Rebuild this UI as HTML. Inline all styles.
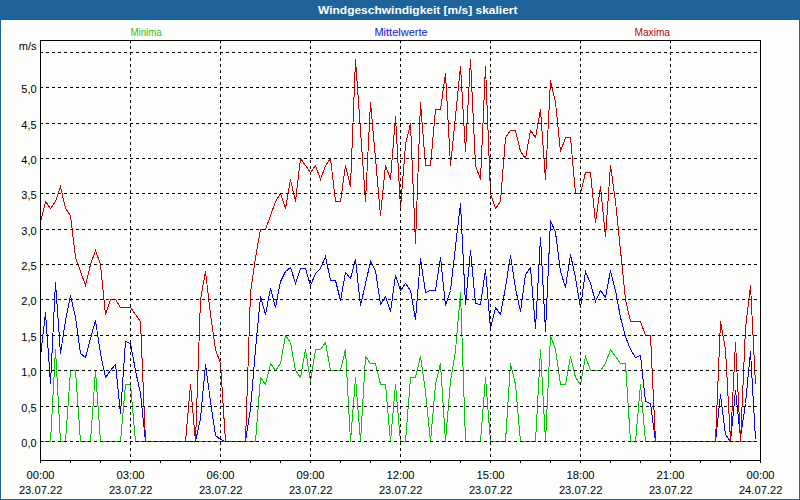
<!DOCTYPE html>
<html lang="de"><head><meta charset="utf-8"><title>Windgeschwindigkeit [m/s] skaliert</title>
<style>
html,body{margin:0;padding:0;background:#fdfefc;}
body{width:800px;height:500px;overflow:hidden;position:relative;font-family:"Liberation Sans",sans-serif;}
#win{position:absolute;left:0;top:0;width:798px;height:479px;border:1px solid #1e649a;border-top:20px solid #1e649a;background:#fdfefc;}
</style></head><body>
<div id="win"></div>
<svg width="800" height="500" viewBox="0 0 800 500" style="position:absolute;left:0;top:0"><g fill="none" stroke-width="1" stroke-linejoin="miter" shape-rendering="crispEdges"><polyline stroke="#00c800" points="40.5,441.5 45.5,441.5 50.5,441.5 55.5,349.5 60.5,441.5 65.5,441.5 70.5,370.5 75.5,370.5 80.5,441.5 85.5,441.5 90.5,441.5 95.5,370.5 100.5,441.5 105.5,441.5 110.5,441.5 115.5,441.5 120.5,441.5 125.5,384.5 130.5,384.5 135.5,441.5 140.5,441.5 145.5,441.5 150.5,441.5 155.5,441.5 160.5,441.5 165.5,441.5 170.5,441.5 175.5,441.5 180.5,441.5 185.5,441.5 190.5,441.5 195.5,441.5 200.5,441.5 205.5,441.5 210.5,441.5 215.5,441.5 220.5,441.5 225.5,441.5 230.5,441.5 235.5,441.5 240.5,441.5 245.5,441.5 250.5,441.5 255.5,441.5 260.5,377.5 265.5,384.5 270.5,363.5 275.5,370.5 280.5,363.5 285.5,335.5 290.5,342.5 295.5,370.5 300.5,377.5 305.5,349.5 310.5,381.5 315.5,349.5 320.5,349.5 325.5,342.5 330.5,370.5 335.5,370.5 340.5,370.5 345.5,349.5 350.5,441.5 355.5,377.5 360.5,441.5 365.5,356.5 370.5,363.5 375.5,363.5 380.5,384.5 385.5,384.5 390.5,441.5 395.5,384.5 400.5,441.5 405.5,441.5 410.5,377.5 415.5,377.5 420.5,356.5 425.5,391.5 430.5,441.5 435.5,384.5 440.5,363.5 445.5,441.5 450.5,381.5 455.5,350.5 460.5,292.5 465.5,441.5 470.5,441.5 475.5,441.5 480.5,441.5 485.5,377.5 490.5,441.5 495.5,441.5 500.5,441.5 505.5,441.5 510.5,363.5 515.5,384.5 520.5,441.5 525.5,441.5 530.5,441.5 535.5,441.5 540.5,349.5 545.5,441.5 550.5,335.5 555.5,349.5 560.5,384.5 565.5,384.5 570.5,356.5 575.5,377.5 580.5,384.5 585.5,356.5 590.5,370.5 595.5,370.5 600.5,370.5 605.5,363.5 610.5,349.5 615.5,356.5 620.5,363.5 625.5,363.5 630.5,441.5 635.5,441.5 640.5,384.5 645.5,441.5 650.5,441.5 655.5,441.5 660.5,441.5 665.5,441.5 670.5,441.5 675.5,441.5 680.5,441.5 685.5,441.5 690.5,441.5 695.5,441.5 700.5,441.5 705.5,441.5 710.5,441.5 715.5,441.5 720.5,441.5 725.5,441.5 730.5,441.5 735.5,441.5 740.5,441.5 745.5,441.5 750.5,441.5 755.5,441.5"/><polyline stroke="#0000ff" points="40.5,356.5 45.5,312.5 50.5,383.5 55.5,282.5 60.5,353.5 65.5,320.5 70.5,295.5 75.5,317.5 80.5,353.5 85.5,357.5 90.5,338.5 95.5,320.5 100.5,353.5 105.5,377.5 110.5,370.5 115.5,364.5 120.5,413.5 125.5,341.5 130.5,343.5 135.5,370.5 140.5,393.5 145.5,441.5 150.5,441.5 155.5,441.5 160.5,441.5 165.5,441.5 170.5,441.5 175.5,441.5 180.5,441.5 185.5,441.5 190.5,441.5 195.5,441.5 200.5,418.5 205.5,364.5 210.5,401.5 215.5,435.5 220.5,439.5 225.5,441.5 230.5,441.5 235.5,441.5 240.5,441.5 245.5,441.5 250.5,408.5 255.5,349.5 260.5,296.5 265.5,314.5 270.5,288.5 275.5,307.5 280.5,281.5 285.5,271.5 290.5,267.5 295.5,283.5 300.5,268.5 305.5,268.5 310.5,285.5 315.5,273.5 320.5,268.5 325.5,256.5 330.5,280.5 335.5,280.5 340.5,300.5 345.5,272.5 350.5,278.5 355.5,259.5 360.5,305.5 365.5,283.5 370.5,261.5 375.5,270.5 380.5,304.5 385.5,296.5 390.5,311.5 395.5,275.5 400.5,290.5 405.5,283.5 410.5,290.5 415.5,319.5 420.5,258.5 425.5,292.5 430.5,290.5 435.5,290.5 440.5,257.5 445.5,305.5 450.5,290.5 455.5,246.5 460.5,203.5 465.5,304.5 470.5,250.5 475.5,303.5 480.5,304.5 485.5,269.5 490.5,328.5 495.5,307.5 500.5,314.5 505.5,287.5 510.5,255.5 515.5,288.5 520.5,311.5 525.5,274.5 530.5,267.5 535.5,328.5 540.5,237.5 545.5,331.5 550.5,220.5 555.5,232.5 560.5,271.5 565.5,287.5 570.5,254.5 575.5,277.5 580.5,307.5 585.5,271.5 590.5,283.5 595.5,301.5 600.5,290.5 605.5,297.5 610.5,270.5 615.5,290.5 620.5,317.5 625.5,336.5 630.5,349.5 635.5,357.5 640.5,355.5 645.5,401.5 650.5,403.5 655.5,441.5 660.5,441.5 665.5,441.5 670.5,441.5 675.5,441.5 680.5,441.5 685.5,441.5 690.5,441.5 695.5,441.5 700.5,441.5 705.5,441.5 710.5,441.5 715.5,441.5 720.5,394.5 725.5,434.5 730.5,441.5 735.5,390.5 740.5,437.5 745.5,403.5 750.5,351.5 755.5,439.5"/><polyline stroke="#c80000" points="40.5,222.5 45.5,201.5 50.5,208.5 55.5,201.5 60.5,186.5 65.5,208.5 70.5,215.5 75.5,257.5 80.5,271.5 85.5,285.5 90.5,264.5 95.5,250.5 100.5,264.5 105.5,314.5 110.5,299.5 115.5,299.5 120.5,307.5 125.5,307.5 130.5,307.5 135.5,314.5 140.5,321.5 145.5,441.5 150.5,441.5 155.5,441.5 160.5,441.5 165.5,441.5 170.5,441.5 175.5,441.5 180.5,441.5 185.5,441.5 190.5,384.5 195.5,441.5 200.5,299.5 205.5,271.5 210.5,314.5 215.5,349.5 220.5,363.5 225.5,441.5 230.5,441.5 235.5,441.5 240.5,441.5 245.5,441.5 250.5,292.5 255.5,257.5 260.5,229.5 265.5,229.5 270.5,215.5 275.5,201.5 280.5,193.5 285.5,208.5 290.5,179.5 295.5,201.5 300.5,158.5 305.5,165.5 310.5,172.5 315.5,165.5 320.5,179.5 325.5,165.5 330.5,158.5 335.5,201.5 340.5,201.5 345.5,165.5 350.5,186.5 355.5,59.5 360.5,130.5 365.5,201.5 370.5,102.5 375.5,158.5 380.5,215.5 385.5,165.5 390.5,179.5 395.5,116.5 400.5,208.5 405.5,144.5 410.5,123.5 415.5,243.5 420.5,102.5 425.5,165.5 430.5,165.5 435.5,109.5 440.5,109.5 445.5,73.5 450.5,165.5 455.5,116.5 460.5,66.5 465.5,151.5 470.5,59.5 475.5,165.5 480.5,179.5 485.5,66.5 490.5,193.5 495.5,208.5 500.5,201.5 505.5,137.5 510.5,130.5 515.5,130.5 520.5,151.5 525.5,158.5 530.5,130.5 535.5,137.5 540.5,109.5 545.5,179.5 550.5,80.5 555.5,102.5 560.5,151.5 565.5,137.5 570.5,137.5 575.5,193.5 580.5,193.5 585.5,172.5 590.5,172.5 595.5,222.5 600.5,186.5 605.5,236.5 610.5,165.5 615.5,201.5 620.5,250.5 625.5,299.5 630.5,321.5 635.5,321.5 640.5,321.5 645.5,335.5 650.5,335.5 655.5,441.5 660.5,441.5 665.5,441.5 670.5,441.5 675.5,441.5 680.5,441.5 685.5,441.5 690.5,441.5 695.5,441.5 700.5,441.5 705.5,441.5 710.5,441.5 715.5,441.5 720.5,321.5 725.5,349.5 730.5,441.5 735.5,342.5 740.5,441.5 745.5,328.5 750.5,285.5 755.5,384.5"/></g><g stroke="#000" stroke-width="1" stroke-dasharray="3 3" shape-rendering="crispEdges" fill="none"><line x1="40" y1="52.5" x2="760" y2="52.5"/><line x1="40" y1="87.5" x2="760" y2="87.5"/><line x1="40" y1="123.5" x2="760" y2="123.5"/><line x1="40" y1="158.5" x2="760" y2="158.5"/><line x1="40" y1="193.5" x2="760" y2="193.5"/><line x1="40" y1="229.5" x2="760" y2="229.5"/><line x1="40" y1="264.5" x2="760" y2="264.5"/><line x1="40" y1="299.5" x2="760" y2="299.5"/><line x1="40" y1="335.5" x2="760" y2="335.5"/><line x1="40" y1="370.5" x2="760" y2="370.5"/><line x1="40" y1="406.5" x2="760" y2="406.5"/><line x1="40" y1="441.5" x2="760" y2="441.5"/><line x1="130.5" y1="40" x2="130.5" y2="460"/><line x1="220.5" y1="40" x2="220.5" y2="460"/><line x1="310.5" y1="40" x2="310.5" y2="460"/><line x1="400.5" y1="40" x2="400.5" y2="460"/><line x1="490.5" y1="40" x2="490.5" y2="460"/><line x1="580.5" y1="40" x2="580.5" y2="460"/><line x1="670.5" y1="40" x2="670.5" y2="460"/></g><g stroke="#000" stroke-width="1" shape-rendering="crispEdges" fill="none"><rect x="40.5" y="40.5" width="720" height="420"/><line x1="40.5" y1="460" x2="40.5" y2="463"/><line x1="70.5" y1="460" x2="70.5" y2="463"/><line x1="100.5" y1="460" x2="100.5" y2="463"/><line x1="130.5" y1="460" x2="130.5" y2="463"/><line x1="160.5" y1="460" x2="160.5" y2="463"/><line x1="190.5" y1="460" x2="190.5" y2="463"/><line x1="220.5" y1="460" x2="220.5" y2="463"/><line x1="250.5" y1="460" x2="250.5" y2="463"/><line x1="280.5" y1="460" x2="280.5" y2="463"/><line x1="310.5" y1="460" x2="310.5" y2="463"/><line x1="340.5" y1="460" x2="340.5" y2="463"/><line x1="370.5" y1="460" x2="370.5" y2="463"/><line x1="400.5" y1="460" x2="400.5" y2="463"/><line x1="430.5" y1="460" x2="430.5" y2="463"/><line x1="460.5" y1="460" x2="460.5" y2="463"/><line x1="490.5" y1="460" x2="490.5" y2="463"/><line x1="520.5" y1="460" x2="520.5" y2="463"/><line x1="550.5" y1="460" x2="550.5" y2="463"/><line x1="580.5" y1="460" x2="580.5" y2="463"/><line x1="610.5" y1="460" x2="610.5" y2="463"/><line x1="640.5" y1="460" x2="640.5" y2="463"/><line x1="670.5" y1="460" x2="670.5" y2="463"/><line x1="700.5" y1="460" x2="700.5" y2="463"/><line x1="730.5" y1="460" x2="730.5" y2="463"/><line x1="760.5" y1="460" x2="760.5" y2="463"/></g><g font-family="'Liberation Sans', sans-serif" font-size="11px" fill="#000"><text x="36.6" y="50" text-anchor="end">m/s</text><text x="36.6" y="93" text-anchor="end">5,0</text><text x="36.6" y="129" text-anchor="end">4,5</text><text x="36.6" y="164" text-anchor="end">4,0</text><text x="36.6" y="199" text-anchor="end">3,5</text><text x="36.6" y="235" text-anchor="end">3,0</text><text x="36.6" y="270" text-anchor="end">2,5</text><text x="36.6" y="305" text-anchor="end">2,0</text><text x="36.6" y="341" text-anchor="end">1,5</text><text x="36.6" y="376" text-anchor="end">1,0</text><text x="36.6" y="412" text-anchor="end">0,5</text><text x="36.6" y="447" text-anchor="end">0,0</text><text x="26.6" y="479" textLength="28" lengthAdjust="spacingAndGlyphs">00:00</text><text x="18.9" y="494" textLength="43.5" lengthAdjust="spacingAndGlyphs">23.07.22</text><text x="116.6" y="479" textLength="28" lengthAdjust="spacingAndGlyphs">03:00</text><text x="108.9" y="494" textLength="43.5" lengthAdjust="spacingAndGlyphs">23.07.22</text><text x="206.6" y="479" textLength="28" lengthAdjust="spacingAndGlyphs">06:00</text><text x="198.9" y="494" textLength="43.5" lengthAdjust="spacingAndGlyphs">23.07.22</text><text x="296.6" y="479" textLength="28" lengthAdjust="spacingAndGlyphs">09:00</text><text x="288.9" y="494" textLength="43.5" lengthAdjust="spacingAndGlyphs">23.07.22</text><text x="386.6" y="479" textLength="28" lengthAdjust="spacingAndGlyphs">12:00</text><text x="378.9" y="494" textLength="43.5" lengthAdjust="spacingAndGlyphs">23.07.22</text><text x="476.6" y="479" textLength="28" lengthAdjust="spacingAndGlyphs">15:00</text><text x="468.9" y="494" textLength="43.5" lengthAdjust="spacingAndGlyphs">23.07.22</text><text x="566.6" y="479" textLength="28" lengthAdjust="spacingAndGlyphs">18:00</text><text x="558.9" y="494" textLength="43.5" lengthAdjust="spacingAndGlyphs">23.07.22</text><text x="656.6" y="479" textLength="28" lengthAdjust="spacingAndGlyphs">21:00</text><text x="648.9" y="494" textLength="43.5" lengthAdjust="spacingAndGlyphs">23.07.22</text><text x="746.6" y="479" textLength="28" lengthAdjust="spacingAndGlyphs">00:00</text><text x="738.9" y="494" textLength="43.5" lengthAdjust="spacingAndGlyphs">24.07.22</text><text x="130.5" y="36" fill="#14c814" textLength="31" lengthAdjust="spacingAndGlyphs">Minima</text><text x="401" y="36" fill="#1010f0" text-anchor="middle">Mittelwerte</text><text x="634.5" y="36" fill="#c00020" textLength="35.5" lengthAdjust="spacingAndGlyphs">Maxima</text><text x="318" y="14" fill="#fff" font-weight="bold" textLength="199.5" lengthAdjust="spacingAndGlyphs">Windgeschwindigkeit [m/s] skaliert</text></g></svg>
</body></html>
